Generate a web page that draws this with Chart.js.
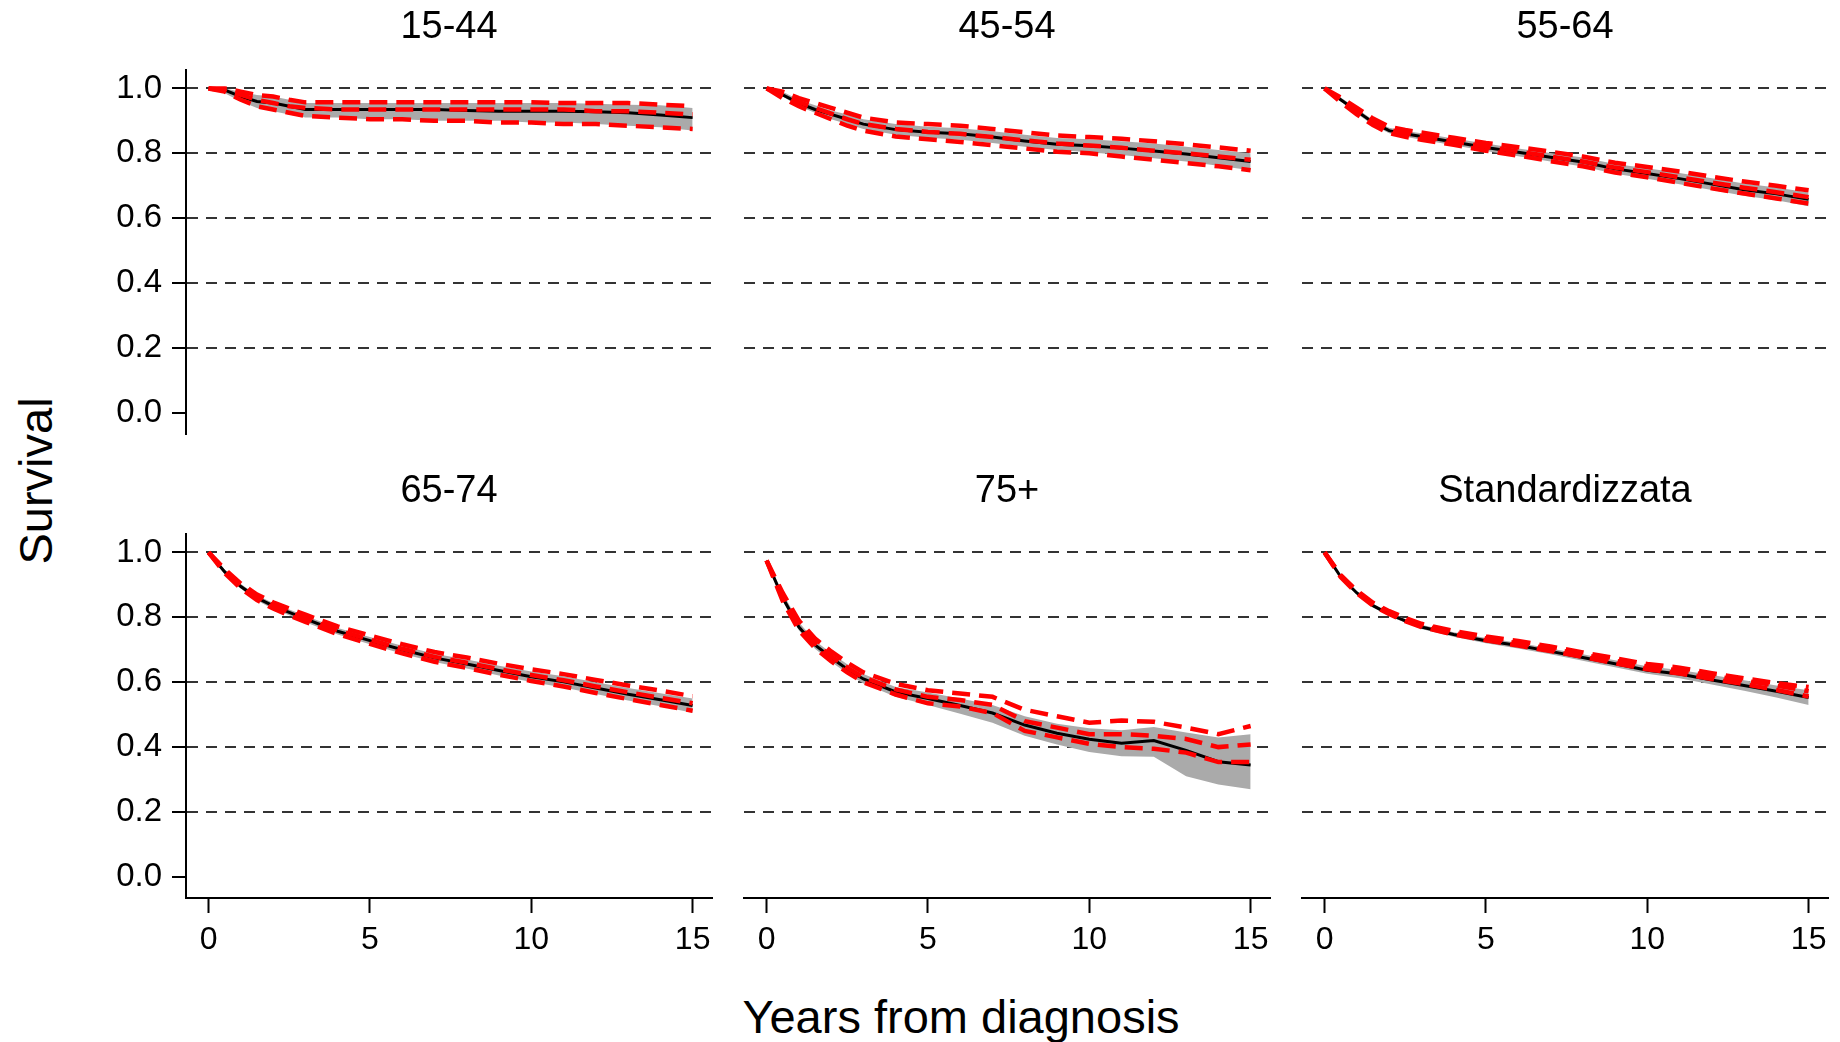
<!DOCTYPE html>
<html>

<head>
    <meta charset='utf-8'>
    <title>Survival by age group</title>
    <script src="https://cdn.jsdelivr.net/npm/chart.js@4.4.1/dist/chart.umd.min.js"></script>
    <style>
        body { margin: 0; width: 1840px; height: 1042px; overflow: hidden; background: #fff; position: relative;
               font-family: 'Liberation Sans', Arial, sans-serif; }
        canvas { position: absolute; }
        .lab { position: absolute; font-size: 47px; color: #000; white-space: nowrap; }
    </style>
</head>

<body>
    <div class="lab" id="ylab" style="left:35px; top:481px; transform: translate(-50%, -50%) rotate(-90deg);">Survival</div>
    <div class="lab" id="xlab" style="left:961px; top:1016px; transform: translate(-50%, -50%);">Years from diagnosis</div>
    <script>
        // time grid (years from diagnosis)
        const years = [0, 0.5, 1, 1.5, 2, 2.5, 3, 4, 5, 6, 7, 8, 9, 10, 11, 12, 13, 14, 15];
        const panelTitles = ['15-44', '45-54', '55-64', '65-74', '75+', 'Standardizzata'];
        const yTicks = [0, 0.2, 0.4, 0.6, 0.8, 1.0];
        const xTicks = [0, 5, 10, 15];

        // 15-44
        const surv1 = [1.0, 0.995, 0.975, 0.96, 0.955, 0.945, 0.935, 0.935, 0.935, 0.935, 0.935, 0.932, 0.93, 0.93, 0.93, 0.928, 0.925, 0.918, 0.91];
        const lo1 = [1.0, 0.985, 0.96, 0.94, 0.93, 0.92, 0.91, 0.91, 0.905, 0.905, 0.9, 0.9, 0.9, 0.895, 0.895, 0.89, 0.885, 0.88, 0.87];
        const hi1 = [1.0, 1.0, 0.99, 0.98, 0.975, 0.965, 0.955, 0.955, 0.955, 0.955, 0.955, 0.955, 0.955, 0.955, 0.955, 0.953, 0.95, 0.948, 0.94];
        const red1 = [1.0, 0.995, 0.98, 0.965, 0.955, 0.945, 0.94, 0.935, 0.935, 0.935, 0.935, 0.935, 0.935, 0.935, 0.935, 0.93, 0.93, 0.925, 0.92];
        const redLo1 = [1.0, 0.99, 0.965, 0.945, 0.935, 0.925, 0.915, 0.91, 0.905, 0.905, 0.9, 0.9, 0.895, 0.895, 0.89, 0.89, 0.885, 0.88, 0.875];
        const redHi1 = [1.0, 1.0, 0.99, 0.98, 0.975, 0.965, 0.957, 0.957, 0.957, 0.957, 0.957, 0.957, 0.957, 0.957, 0.955, 0.955, 0.955, 0.95, 0.945];

        // 45-54
        const surv2 = [1.0, 0.98, 0.955, 0.935, 0.92, 0.905, 0.89, 0.873, 0.865, 0.86, 0.85, 0.838, 0.828, 0.823, 0.816, 0.807, 0.798, 0.786, 0.775];
        const lo2 = [1.0, 0.975, 0.945, 0.925, 0.905, 0.89, 0.875, 0.857, 0.848, 0.842, 0.832, 0.82, 0.81, 0.803, 0.795, 0.785, 0.775, 0.762, 0.748];
        const hi2 = [1.0, 0.99, 0.965, 0.948, 0.932, 0.92, 0.905, 0.89, 0.882, 0.877, 0.868, 0.857, 0.847, 0.843, 0.837, 0.83, 0.82, 0.81, 0.8];
        const red2 = [1.0, 0.98, 0.958, 0.94, 0.922, 0.905, 0.89, 0.875, 0.866, 0.86, 0.85, 0.84, 0.83, 0.824, 0.817, 0.808, 0.8, 0.79, 0.78];
        const redLo2 = [1.0, 0.97, 0.945, 0.925, 0.905, 0.885, 0.87, 0.852, 0.843, 0.835, 0.825, 0.815, 0.805, 0.8, 0.79, 0.78, 0.77, 0.76, 0.748];
        const redHi2 = [1.0, 0.99, 0.97, 0.955, 0.94, 0.925, 0.91, 0.895, 0.89, 0.885, 0.875, 0.865, 0.855, 0.85, 0.845, 0.837, 0.828, 0.818, 0.808];

        // 55-64
        const surv3 = [1.0, 0.965, 0.93, 0.895, 0.87, 0.86, 0.852, 0.835, 0.818, 0.803, 0.788, 0.773, 0.752, 0.738, 0.722, 0.705, 0.688, 0.675, 0.658];
        const lo3 = [1.0, 0.96, 0.922, 0.887, 0.862, 0.851, 0.842, 0.825, 0.807, 0.791, 0.775, 0.759, 0.737, 0.722, 0.705, 0.687, 0.669, 0.655, 0.637];
        const hi3 = [1.0, 0.972, 0.938, 0.903, 0.879, 0.869, 0.862, 0.846, 0.83, 0.815, 0.801, 0.787, 0.767, 0.754, 0.739, 0.723, 0.707, 0.695, 0.679];
        const red3 = [1.0, 0.965, 0.93, 0.897, 0.872, 0.862, 0.853, 0.837, 0.82, 0.806, 0.79, 0.775, 0.756, 0.742, 0.726, 0.71, 0.694, 0.68, 0.665];
        const redLo3 = [1.0, 0.958, 0.92, 0.887, 0.862, 0.851, 0.842, 0.826, 0.808, 0.793, 0.776, 0.76, 0.741, 0.726, 0.709, 0.692, 0.676, 0.661, 0.645];
        const redHi3 = [1.0, 0.972, 0.94, 0.907, 0.882, 0.872, 0.864, 0.848, 0.832, 0.819, 0.805, 0.79, 0.771, 0.758, 0.744, 0.728, 0.713, 0.7, 0.686];

        // 65-74
        const surv4 = [1.0, 0.94, 0.895, 0.86, 0.835, 0.815, 0.795, 0.757, 0.728, 0.7, 0.675, 0.656, 0.636, 0.617, 0.601, 0.582, 0.563, 0.546, 0.528];
        const lo4 = [1.0, 0.935, 0.888, 0.852, 0.826, 0.806, 0.785, 0.747, 0.717, 0.688, 0.662, 0.642, 0.621, 0.601, 0.584, 0.564, 0.544, 0.526, 0.506];
        const hi4 = [1.0, 0.947, 0.903, 0.868, 0.844, 0.824, 0.805, 0.767, 0.739, 0.712, 0.688, 0.67, 0.651, 0.633, 0.618, 0.6, 0.582, 0.566, 0.55];
        const red4 = [1.0, 0.942, 0.897, 0.862, 0.837, 0.817, 0.797, 0.76, 0.731, 0.703, 0.678, 0.66, 0.64, 0.622, 0.606, 0.587, 0.569, 0.552, 0.535];
        const redLo4 = [1.0, 0.936, 0.889, 0.853, 0.827, 0.806, 0.786, 0.748, 0.718, 0.689, 0.663, 0.644, 0.623, 0.604, 0.587, 0.567, 0.548, 0.53, 0.512];
        const redHi4 = [1.0, 0.948, 0.904, 0.87, 0.846, 0.827, 0.808, 0.772, 0.744, 0.717, 0.693, 0.676, 0.657, 0.64, 0.625, 0.607, 0.59, 0.574, 0.557];

        // 75+
        const surv5 = [0.975, 0.86, 0.77, 0.715, 0.676, 0.64, 0.61, 0.57, 0.55, 0.528, 0.505, 0.468, 0.443, 0.424, 0.412, 0.42, 0.39, 0.355, 0.345];
        const lo5 = [0.975, 0.85, 0.76, 0.703, 0.663, 0.627, 0.596, 0.555, 0.53, 0.503, 0.475, 0.435, 0.408, 0.385, 0.372, 0.37, 0.31, 0.285, 0.27];
        const hi5 = [0.98, 0.875, 0.785, 0.728, 0.69, 0.655, 0.625, 0.585, 0.568, 0.55, 0.53, 0.495, 0.472, 0.458, 0.452, 0.462, 0.445, 0.43, 0.44];
        const red5 = [0.975, 0.862, 0.775, 0.72, 0.68, 0.645, 0.615, 0.578, 0.555, 0.545, 0.53, 0.48, 0.46, 0.44, 0.44, 0.435, 0.425, 0.4, 0.408];
        const redLo5 = [0.975, 0.85, 0.76, 0.705, 0.665, 0.63, 0.6, 0.562, 0.535, 0.525, 0.505, 0.45, 0.43, 0.41, 0.4, 0.395, 0.383, 0.354, 0.354];
        const redHi5 = [0.975, 0.875, 0.79, 0.735, 0.695, 0.66, 0.63, 0.595, 0.575, 0.565, 0.555, 0.515, 0.495, 0.475, 0.482, 0.478, 0.46, 0.44, 0.465];

        // Standardizzata
        const surv6 = [1.0, 0.925, 0.875, 0.836, 0.81, 0.789, 0.77, 0.747, 0.728, 0.713, 0.695, 0.676, 0.657, 0.637, 0.625, 0.607, 0.59, 0.572, 0.553];
        const lo6 = [1.0, 0.92, 0.87, 0.83, 0.804, 0.783, 0.764, 0.74, 0.72, 0.704, 0.686, 0.666, 0.646, 0.626, 0.612, 0.593, 0.574, 0.553, 0.53];
        const hi6 = [1.0, 0.93, 0.88, 0.842, 0.816, 0.795, 0.777, 0.754, 0.736, 0.722, 0.704, 0.686, 0.668, 0.649, 0.638, 0.622, 0.606, 0.59, 0.575];
        const red6 = [1.0, 0.927, 0.878, 0.84, 0.814, 0.793, 0.775, 0.752, 0.735, 0.72, 0.703, 0.685, 0.666, 0.648, 0.636, 0.62, 0.605, 0.59, 0.572];
        const redLo6 = [1.0, 0.924, 0.874, 0.836, 0.81, 0.788, 0.77, 0.747, 0.729, 0.713, 0.696, 0.678, 0.658, 0.64, 0.627, 0.61, 0.594, 0.576, 0.556];
        const redHi6 = [1.0, 0.93, 0.882, 0.845, 0.819, 0.798, 0.78, 0.758, 0.741, 0.727, 0.71, 0.692, 0.674, 0.656, 0.645, 0.628, 0.612, 0.597, 0.585];

        const panels = [
            [surv1, lo1, hi1, red1, redLo1, redHi1],
            [surv2, lo2, hi2, red2, redLo2, redHi2],
            [surv3, lo3, hi3, red3, redLo3, redHi3],
            [surv4, lo4, hi4, red4, redLo4, redHi4],
            [surv5, lo5, hi5, red5, redLo5, redHi5],
            [surv6, lo6, hi6, red6, redLo6, redHi6]
        ];

        const FONT = "'Liberation Sans', Arial, sans-serif";
        const colLeft = [186, 744, 1302];
        const rowTop = [0, 464];
        const plotW = 526;

        function pts(vals) {
            return years.map((x, i) => ({ x: x, y: vals[i] }));
        }

        panels.forEach((p, k) => {
            const col = k % 3, row = Math.floor(k / 3);
            const leftCol = col === 0, bottomRow = row === 1;
            const cv = document.createElement('canvas');
            cv.width = plotW + 200;
            cv.height = 514;
            cv.style.left = (colLeft[col] - 100) + 'px';
            cv.style.top = rowTop[row] + 'px';
            document.body.appendChild(cv);

            const redStyle = { borderColor: '#ff0000', borderWidth: 4.5, borderDash: [18, 9], pointRadius: 0, fill: false, order: 0 };
            new Chart(cv.getContext('2d'), {
                type: 'line',
                data: {
                    datasets: [
                        { data: pts(p[1]), borderWidth: 0, pointRadius: 0, fill: false, order: 3 },
                        { data: pts(p[2]), borderWidth: 0, pointRadius: 0, fill: 0, backgroundColor: '#aaaaaa', order: 3 },
                        { data: pts(p[0]), borderColor: '#000000', borderWidth: 3, pointRadius: 0, fill: false, order: 1 },
                        Object.assign({ data: pts(p[4]) }, redStyle),
                        Object.assign({ data: pts(p[3]) }, redStyle),
                        Object.assign({ data: pts(p[5]) }, redStyle)
                    ]
                },
                options: {
                    responsive: false,
                    devicePixelRatio: 1,
                    animation: false,
                    layout: { padding: 0 },
                    plugins: {
                        legend: { display: false },
                        tooltip: { enabled: false },
                        title: {
                            display: true,
                            text: panelTitles[k],
                            color: '#000',
                            font: { family: FONT, size: 38, weight: 'normal' },
                            padding: { top: 5, bottom: 19 }
                        }
                    },
                    scales: {
                        x: {
                            type: 'linear',
                            min: -0.7,
                            max: 15.6,
                            afterBuildTicks: s => { s.ticks = xTicks.map(v => ({ value: v })); },
                            afterFit: s => { s.height = 80; },
                            grid: { drawOnChartArea: false, drawTicks: bottomRow, tickLength: 15, tickColor: '#000', tickWidth: 2 },
                            border: { display: bottomRow, color: '#000', width: 2 },
                            ticks: {
                                display: bottomRow,
                                color: '#000',
                                padding: 8,
                                maxRotation: 0,
                                font: { family: FONT, size: 32 }
                            }
                        },
                        y: {
                            min: -0.065,
                            max: 1.058,
                            afterBuildTicks: s => { s.ticks = yTicks.map(v => ({ value: v })); },
                            afterFit: s => { s.width = 100; },
                            grid: {
                                color: c => (c.tick && c.tick.value === 0) ? 'rgba(0,0,0,0)' : '#333333',
                                lineWidth: 2,
                                drawTicks: leftCol,
                                tickLength: 14,
                                tickColor: '#000',
                                tickWidth: 2,
                                tickBorderDash: []
                            },
                            border: { display: leftCol, color: '#000', width: 2, dash: [11, 8] },
                            ticks: {
                                display: leftCol,
                                color: '#000',
                                padding: 10,
                                font: { family: FONT, size: 33 },
                                callback: v => v.toFixed(1)
                            }
                        },
                        // empty right margin so the title centres over the plot area
                        yr: {
                            position: 'right',
                            min: 0,
                            max: 1,
                            afterFit: s => { s.width = 100; },
                            grid: { display: false, drawTicks: false },
                            border: { display: false },
                            ticks: { display: false }
                        }
                    }
                }
            });
        });
    </script>
</body>

</html>
